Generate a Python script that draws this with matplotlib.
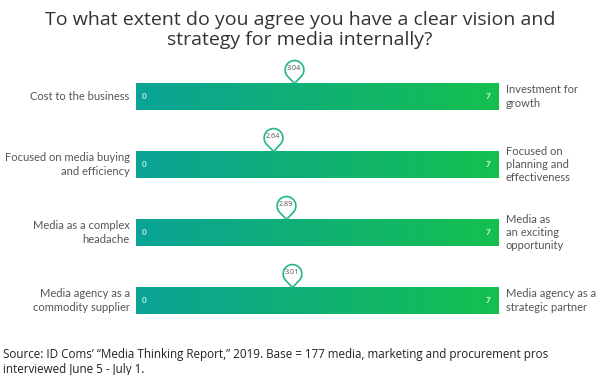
import numpy as np
import matplotlib
matplotlib.use("Agg")
import matplotlib.pyplot as plt
from matplotlib.path import Path
from matplotlib.colors import LinearSegmentedColormap

# ---- data ----
left_labels = ["Cost to the business", "Focused on media buying\nand efficiency",
               "Media as a complex\nheadache", "Media agency as a\ncommodity supplier"]
right_labels = ["Investment for\ngrowth", "Focused on\nplanning and\neffectiveness",
                "Media as\nan exciting\nopportunity", "Media agency as a\nstrategic partner"]
scores = [3.04, 2.64, 2.89, 3.01]
scale_min = 0
scale_max = 7

title = "To what extent do you agree you have a clear vision and\nstrategy for media internally?"
source = ("Source: ID Coms\u2019 \u201cMedia Thinking Report,\u201d 2019. Base = 177 media, marketing and procurement pros\n"
          "interviewed June 5 - July 1.")

W, H = 600, 375
fig = plt.figure(figsize=(W / 100, H / 100), dpi=100)
fig.patch.set_facecolor("white")

ax_left = 136 / W
ax_right = 499 / W
ax_top = 1 - 62.5 / H
ax_bot = 1 - 334.5 / H
ax = fig.add_axes([ax_left, ax_bot, ax_right - ax_left, ax_top - ax_bot])
ax.axis("off")

cmap = LinearSegmentedColormap.from_list("tg", ["#0aa396", "#14c04f"])
grad = np.linspace(0, 1, 256).reshape(1, -1)
bar_h = 0.41
ypos = np.arange(len(scores))
bars = ax.barh(ypos, [scale_max - scale_min] * len(scores), left=scale_min,
               height=bar_h, color="none", edgecolor="none")
for y, b in zip(ypos, bars):
    im = ax.imshow(grad, cmap=cmap, aspect="auto", interpolation="bicubic",
                   extent=(scale_min, scale_max, y + bar_h / 2, y - bar_h / 2), zorder=1)
    im.set_clip_path(b)
ax.set_xlim(scale_min, scale_max)
ax.set_ylim(len(scores) - 0.5, -0.5)

# pin marker: tip at origin, circle above
r = 1.0
d = 1.45
alpha = np.degrees(np.arccos(r / d))
angs = np.radians(np.linspace(-90 + alpha, 270 - alpha, 80))
verts = [(0, 0)] + [(r * np.cos(a), d + r * np.sin(a)) for a in angs] + [(0, 0)]
codes = [Path.MOVETO] + [Path.LINETO] * (len(verts) - 2) + [Path.CLOSEPOLY]
pin = Path(verts, codes)
ms = 33
ext = d + r
for y, s in zip(ypos, scores):
    ax.plot([s], [y - bar_h / 2], marker=pin, markersize=ms, markerfacecolor="white",
            markeredgecolor="#22b68f", markeredgewidth=1.2, zorder=5, clip_on=False)
    off = ms * 0.5 / ext * d
    ax.annotate(f"{s:.2f}", xy=(s, y - bar_h / 2), xytext=(0, off), textcoords="offset points",
                ha="center", va="center", fontsize=5.2, color="#555555", family="Open Sans",
                zorder=6, annotation_clip=False)

for y, lt, rt in zip(ypos, left_labels, right_labels):
    ax.annotate("0", xy=(scale_min, y), xytext=(6, 0), textcoords="offset points",
                ha="center", va="center", fontsize=5.8, color="#c6f2e8", family="Lato",
                fontweight="bold")
    ax.annotate(str(scale_max), xy=(scale_max, y), xytext=(-8, 0), textcoords="offset points",
                ha="center", va="center", fontsize=5.8, color="#dcf8df", family="Lato",
                fontweight="bold")
    ax.annotate(lt, xy=(scale_min, y), xytext=(-4.5, 0), textcoords="offset points",
                ha="right", va="center", fontsize=8, color="#555555", family="Lato",
                multialignment="right", linespacing=1.25, annotation_clip=False)
    ax.annotate(rt, xy=(scale_max, y), xytext=(5, 0), textcoords="offset points",
                ha="left", va="center", fontsize=8, color="#555555", family="Lato",
                multialignment="left", linespacing=1.25, annotation_clip=False)

fig.text(0.5, 1 - 30 / H, title, ha="center", va="center", fontsize=14,
         family="Open Sans", color="#333333", linespacing=1.2)
fig.text(3 / W, 1 - 362 / H, source, ha="left", va="center", fontsize=8.4,
         family="Open Sans", color="#222222", linespacing=1.2)

fig.savefig("out.png", dpi=100, facecolor="white")
